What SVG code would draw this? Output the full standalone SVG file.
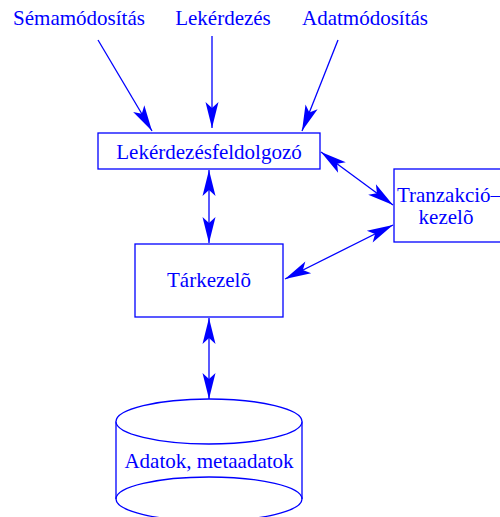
<svg xmlns="http://www.w3.org/2000/svg" width="500" height="517" viewBox="0 0 500 517">
<style>
text{font-family:"Liberation Serif","Times New Roman",serif;font-size:21px;fill:#0000ff;text-anchor:middle}
.b{fill:#fff;stroke:#0000ff;stroke-width:1.3}
.c line{stroke:#0000ff;stroke-width:1.3}
</style>
<defs>
<marker id="a" markerUnits="userSpaceOnUse" viewBox="-28 -8 29 16" refX="0" refY="0" markerWidth="29" markerHeight="16" orient="auto-start-reverse">
<path d="M0,0 L-26,-6.5 L-20,0 L-26,6.5 Z" fill="#0000ff"/>
</marker>
</defs>
<rect width="500" height="517" fill="#fff"/>
<g id="lbl-sema"><text x="79" y="25">Sémamódosítás</text></g>
<g id="lbl-lek"><text x="223" y="25">Lekérdezés</text></g>
<g id="lbl-adat"><text x="365" y="25">Adatmódosítás</text></g>
<g class="c" id="connectors">
<line x1="98" y1="40" x2="152" y2="131" marker-end="url(#a)"/>
<line x1="212" y1="36" x2="212" y2="128" marker-end="url(#a)"/>
<line x1="338" y1="40" x2="302" y2="131" marker-end="url(#a)"/>
<line x1="209" y1="170" x2="209" y2="243" marker-start="url(#a)" marker-end="url(#a)"/>
<line x1="321" y1="152" x2="393" y2="205" marker-start="url(#a)" marker-end="url(#a)"/>
<line x1="285" y1="279" x2="393" y2="225" marker-start="url(#a)" marker-end="url(#a)"/>
<line x1="209" y1="318" x2="209" y2="399" marker-start="url(#a)" marker-end="url(#a)"/>
</g>
<g id="lekfeld"><rect class="b" x="98" y="133" width="222" height="36"/><text x="209" y="159">Lekérdezésfeldolgozó</text></g>
<g id="tranz"><rect class="b" x="394" y="169" width="112" height="73"/><text x="449" y="202">Tranzakció–</text><text x="446" y="224">kezelõ</text></g>
<g id="tar"><rect class="b" x="135" y="244" width="148" height="73"/><text x="209" y="287">Tárkezelõ</text></g>
<g id="db">
<path class="b" d="M116,421.5 V499 A93,22 0 0 0 302,499 V421.5"/>
<path d="M116,499 A93,22 0 0 1 302,499" fill="none" stroke="#0000ff" stroke-width="1.3"/>
<ellipse class="b" cx="209" cy="421.5" rx="93" ry="22.5"/>
<text x="209" y="468">Adatok, metaadatok</text>
</g>
</svg>
